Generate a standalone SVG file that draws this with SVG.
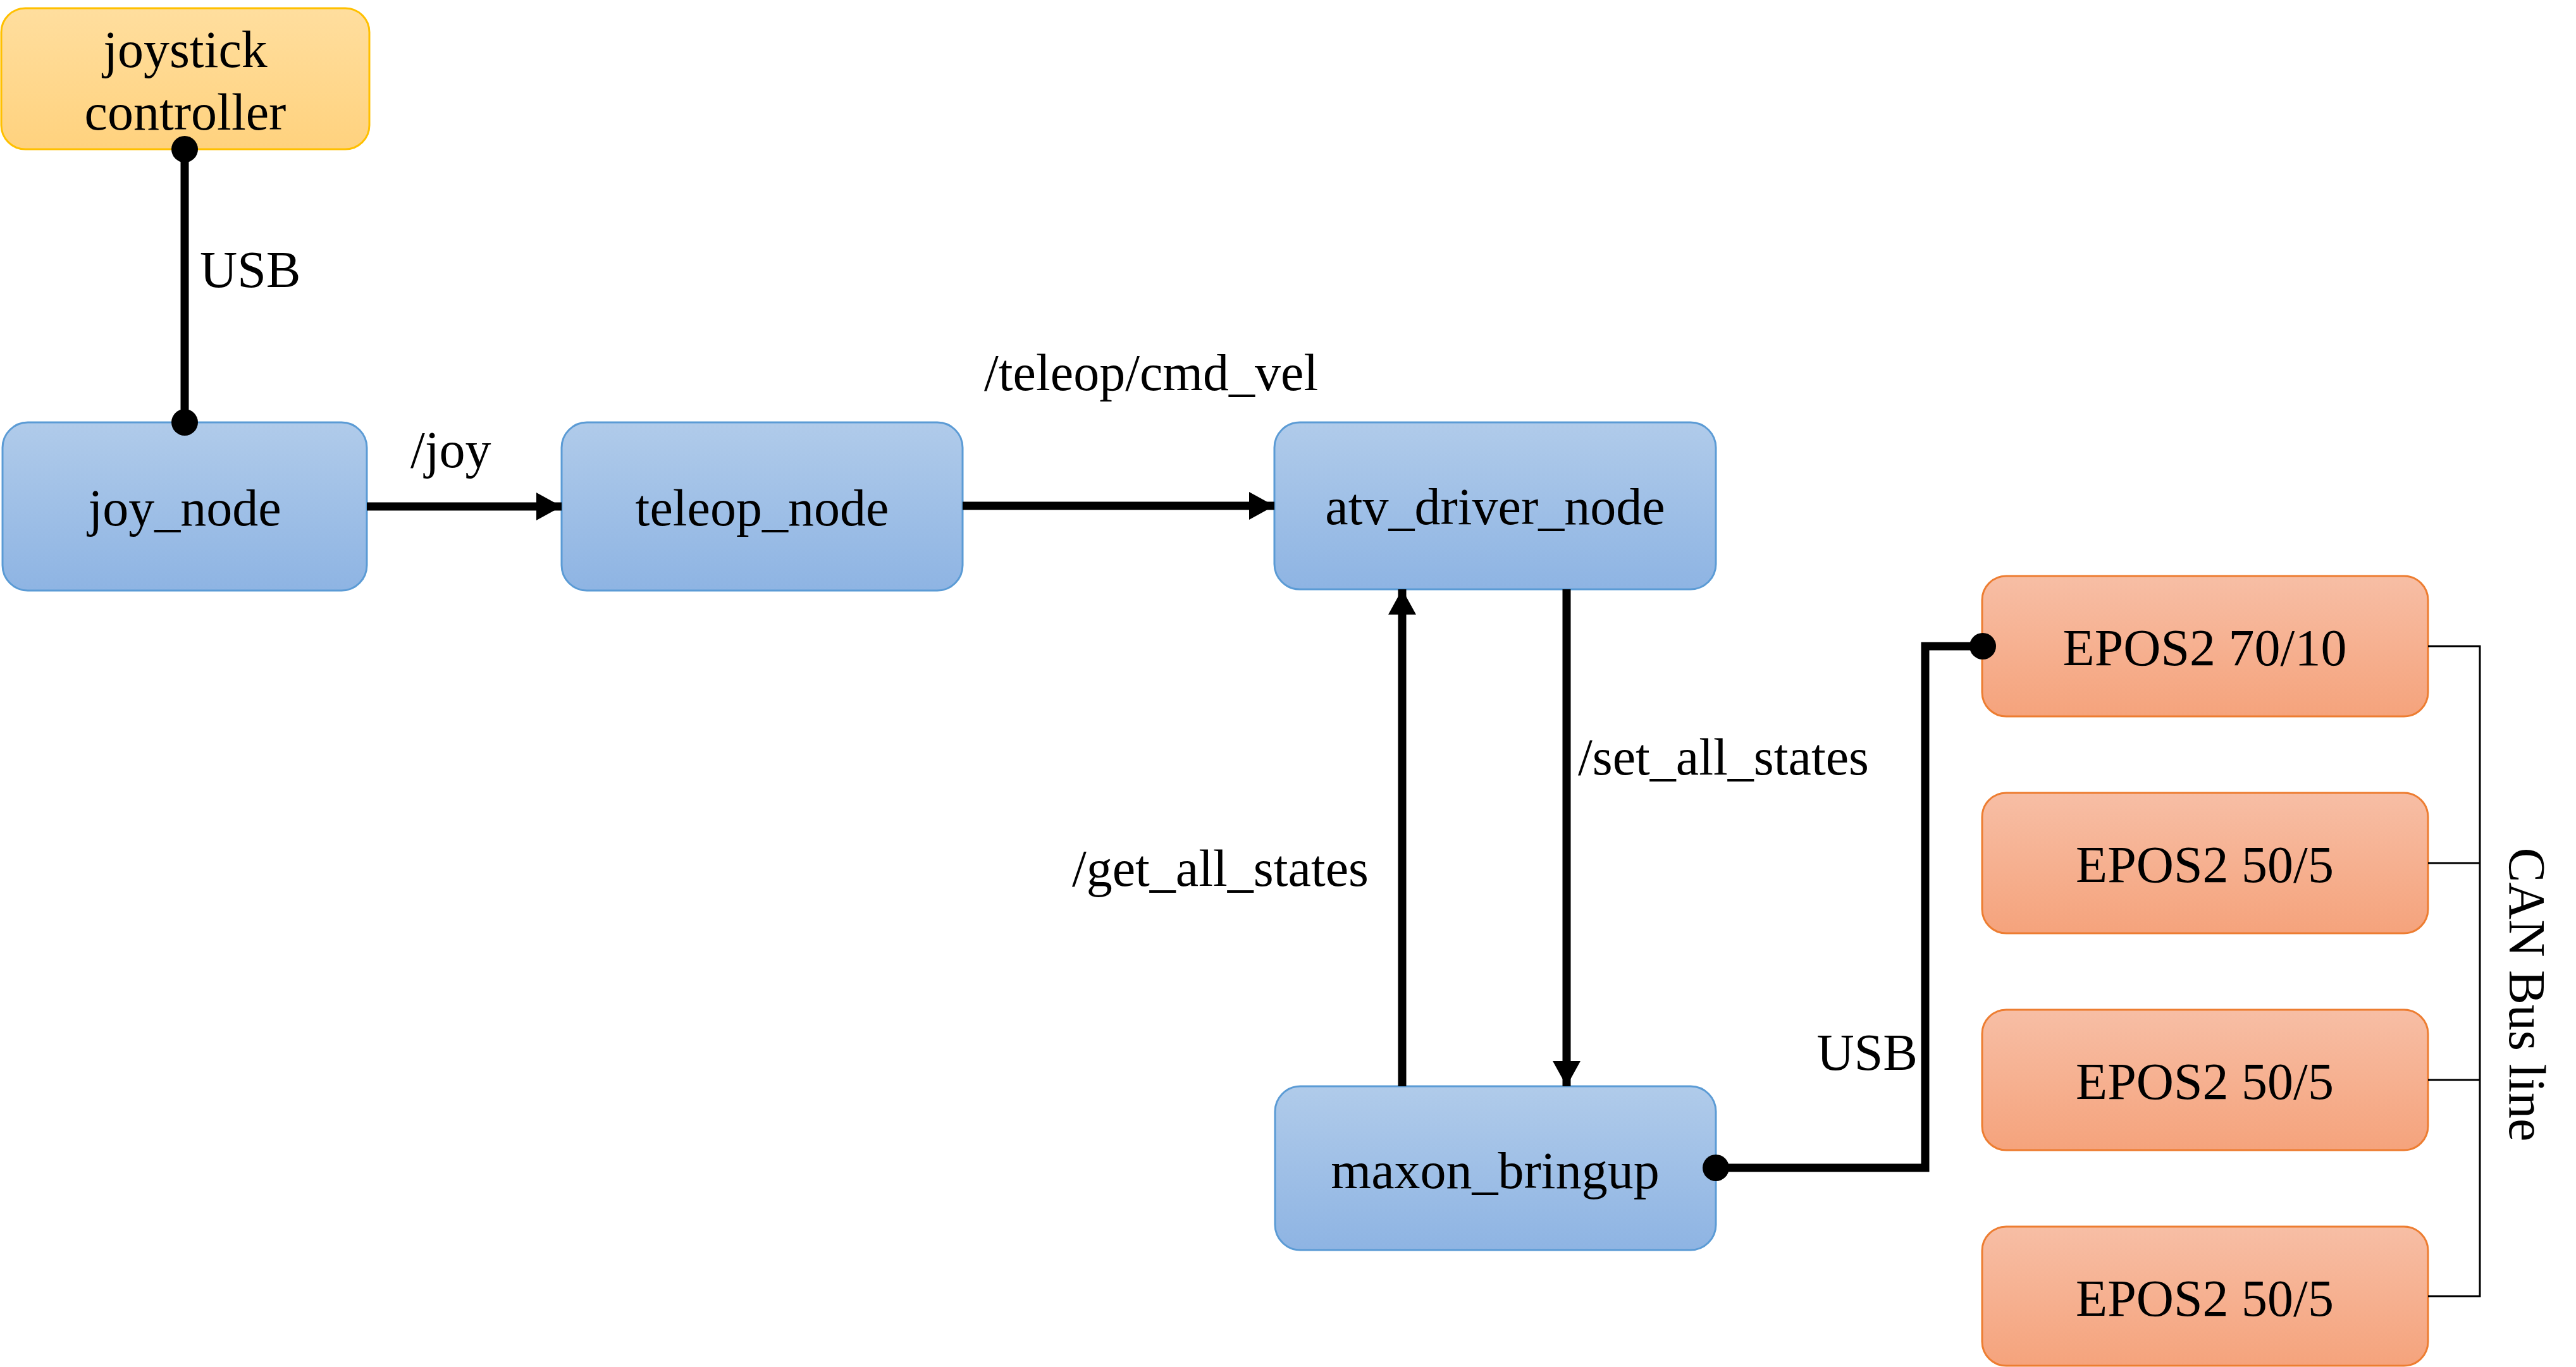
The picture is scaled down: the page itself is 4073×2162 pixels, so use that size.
<svg xmlns="http://www.w3.org/2000/svg" width="4073" height="2162" viewBox="0 0 4073 2162">
<style>
text{font-family:"Liberation Serif","Times New Roman",serif;font-size:82px;fill:#000}
.c{text-anchor:middle}
.e{text-anchor:end}
.blue{fill:url(#gb);stroke:#5B9BD5;stroke-width:3}
.orange{fill:url(#go);stroke:#ED7D31;stroke-width:3}
.yellow{fill:url(#gy);stroke:#FFC000;stroke-width:3}
.wire{fill:none;stroke:#000;stroke-width:13}
.bus{fill:none;stroke:#000;stroke-width:3}
</style>
<defs>
<linearGradient id="gb" x1="0" y1="0" x2="0" y2="1"><stop offset="0" stop-color="#B0CBEA"/><stop offset="1" stop-color="#8EB4E3"/></linearGradient>
<linearGradient id="go" x1="0" y1="0" x2="0" y2="1"><stop offset="0" stop-color="#F7BEA5"/><stop offset="1" stop-color="#F5A37C"/></linearGradient>
<linearGradient id="gy" x1="0" y1="0" x2="0" y2="1"><stop offset="0" stop-color="#FFDE9E"/><stop offset="1" stop-color="#FFD27E"/></linearGradient>
<marker id="arr" markerUnits="userSpaceOnUse" markerWidth="42" markerHeight="44" refX="40" refY="22" orient="auto"><path d="M0,0 L40,22 L0,44 Z" fill="#000"/></marker>
<marker id="dot" markerUnits="userSpaceOnUse" markerWidth="44" markerHeight="44" refX="22" refY="22" orient="auto"><circle cx="22" cy="22" r="21" fill="#000"/></marker>
</defs>
<g id="joystick">
<rect class="yellow" x="2" y="13" width="582" height="223" rx="38"/>
<text class="c" x="293" y="106">joystick</text>
<text class="c" x="293" y="205">controller</text>
</g>
<g id="joy_node">
<rect class="blue" x="4" y="668" width="576" height="266" rx="40"/>
<text class="c" x="292" y="831">joy_node</text>
</g>
<g id="teleop_node">
<rect class="blue" x="888" y="668" width="634" height="266" rx="40"/>
<text class="c" x="1205" y="831">teleop_node</text>
</g>
<g id="atv_driver_node">
<rect class="blue" x="2015" y="668" width="698" height="264" rx="40"/>
<text class="c" x="2364" y="829">atv_driver_node</text>
</g>
<g id="maxon_bringup">
<rect class="blue" x="2016" y="1718" width="697" height="259" rx="40"/>
<text class="c" x="2364" y="1879">maxon_bringup</text>
</g>
<g id="epos1">
<rect class="orange" x="3134" y="911" width="705" height="222" rx="38"/>
<text class="c" x="3486" y="1052">EPOS2 70/10</text>
</g>
<g id="epos2">
<rect class="orange" x="3134" y="1254" width="705" height="222" rx="38"/>
<text class="c" x="3486" y="1395">EPOS2 50/5</text>
</g>
<g id="epos3">
<rect class="orange" x="3134" y="1597" width="705" height="222" rx="38"/>
<text class="c" x="3486" y="1738">EPOS2 50/5</text>
</g>
<g id="epos4">
<rect class="orange" x="3134" y="1940" width="705" height="220" rx="38"/>
<text class="c" x="3486" y="2081">EPOS2 50/5</text>
</g>
<g id="connectors">
<line class="wire" x1="292" y1="236" x2="292" y2="668" marker-start="url(#dot)" marker-end="url(#dot)"/>
<line class="wire" x1="580" y1="801" x2="888" y2="801" marker-end="url(#arr)"/>
<line class="wire" x1="1522" y1="800" x2="2015" y2="800" marker-end="url(#arr)"/>
<line class="wire" x1="2217" y1="1718" x2="2217" y2="932" marker-end="url(#arr)"/>
<line class="wire" x1="2477" y1="932" x2="2477" y2="1718" marker-end="url(#arr)"/>
<polyline class="wire" points="2713,1847 3044,1847 3044,1022 3135,1022" marker-start="url(#dot)" marker-end="url(#dot)"/>
<polyline class="bus" points="3839,1022 3921,1022 3921,2050 3839,2050"/>
<line class="bus" x1="3839" y1="1365" x2="3921" y2="1365"/>
<line class="bus" x1="3839" y1="1708" x2="3921" y2="1708"/>
<text x="316" y="454">USB</text>
<text x="649" y="739">/joy</text>
<text x="1556" y="617">/teleop/cmd_vel</text>
<text x="2495" y="1225">/set_all_states</text>
<text class="e" x="2164" y="1401">/get_all_states</text>
<text class="e" x="3032" y="1692">USB</text>
<text class="c" transform="translate(3968,1573) rotate(90)">CAN Bus line</text>
</g>
</svg>
